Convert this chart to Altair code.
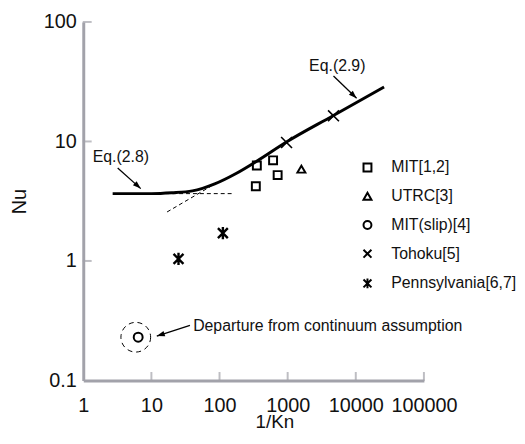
import altair as alt
import pandas as pd

# ---------------- data ----------------
x_ticks = [1, 10, 100, 1000, 10000, 100000]
y_ticks = [0.1, 1, 10, 100]

series_names = ["MIT[1,2]", "UTRC[3]", "MIT(slip)[4]", "Tohoku[5]", "Pennsylvania[6,7]"]
series_shapes = [
    "square",
    "triangle-up",
    "circle",
    "M-1,-1L1,1M1,-1L-1,1",
    "M-1,-1L1,1M1,-1L-1,1M0,-1.25L0,1.25",
]
series_marker_size = [64, 64, 81, 121, 100]
series_marker_stroke = [2, 2, 2, 1.6, 2.4]

mit_x = [353, 611, 713, 341]
mit_y = [6.3, 6.95, 5.23, 4.22]
utrc_x = [1590]
utrc_y = [5.86]
slip_x = [6.4]
slip_y = [0.23]
tohoku_x = [964, 4710]
tohoku_y = [9.8, 16.4]
penn_x = [25, 112]
penn_y = [1.04, 1.71]

# combined correlation curve (solid)
curve_x = [2.7, 10, 20, 40, 85, 175, 360, 960, 4700, 26000]
curve_y = [3.66, 3.66, 3.72, 3.86, 4.42, 5.4, 6.9, 9.9, 16.5, 28.6]
# Eq.(2.8) continuation (dashed horizontal)
eq28_x = [10, 160]
eq28_y = [3.66, 3.66]
# Eq.(2.9) continuation (dashed slope)
eq29_x = [17, 76]
eq29_y = [2.57, 4.24]

# annotations
eq_texts = ["Eq.(2.8)", "Eq.(2.9)"]
eq_x = [3.57, 5350]
eq_y = [7.39, 42.7]
dep_text = ["Departure from continuum assumption"]
dep_x = [41.0]
dep_y = [0.285]

arrow_x1 = [3.2, 4710, 36.8]
arrow_y1 = [6.0, 35.3, 0.289]
arrow_x2 = [6.97, 10280, 12.0]
arrow_y2 = [4.03, 23.0, 0.235]
arrow_angle = [132, 134, 252]

circle_x = [5.9]
circle_y = [0.23]

# ---------------- tables ----------------
rows = []
for name, xs, ys, sz, sw in zip(series_names,
                                [mit_x, utrc_x, slip_x, tohoku_x, penn_x],
                                [mit_y, utrc_y, slip_y, tohoku_y, penn_y],
                                series_marker_size, series_marker_stroke):
    for a, b in zip(xs, ys):
        rows.append({"x": a, "y": b, "series": name, "sz": sz, "sw": sw})
pts = pd.DataFrame(rows)

curve = pd.DataFrame({"x": curve_x, "y": curve_y})
d28 = pd.DataFrame({"x": eq28_x, "y": eq28_y})
d29 = pd.DataFrame({"x": eq29_x, "y": eq29_y})
eqlab = pd.DataFrame({"x": eq_x, "y": eq_y, "t": eq_texts})
deplab = pd.DataFrame({"x": dep_x, "y": dep_y, "t": dep_text})
arrows = pd.DataFrame({"x": arrow_x1, "y": arrow_y1, "x2": arrow_x2, "y2": arrow_y2, "ang": arrow_angle})
circ = pd.DataFrame({"x": circle_x, "y": circle_y})
xt = pd.DataFrame({"x": x_ticks[1:]})
yt = pd.DataFrame({"y": y_ticks[1:]})

FONT = "Liberation Sans"
GRAY = "#a2a2aa"

xscale = alt.Scale(type="log", domain=[1, 100000], nice=False)
yscale = alt.Scale(type="log", domain=[0.1, 100], nice=False)

xaxis = alt.Axis(values=x_ticks, labelExpr="'' + datum.value", title="1/Kn",
                 titleX=193, titleY=48, titleBaseline="alphabetic", titleFontSize=19,
                 titleFontWeight="normal", labelFontSize=20, labelPadding=15,
                 ticks=False, tickSize=0, grid=False, domainColor=GRAY, domainWidth=3,
                 labelColor="#111", titleColor="#111", labelFlush=False)
yaxis = alt.Axis(values=y_ticks, labelExpr="'' + datum.value", title="Nu",
                 titleX=-58, titleY=181, titleAngle=-90, titleAlign="center",
                 titleBaseline="alphabetic", titleFontSize=20, titleFontWeight="normal",
                 labelFontSize=20, labelPadding=7, ticks=False, tickSize=0, grid=False,
                 domainColor=GRAY, domainWidth=3, labelColor="#111", titleColor="#111",
                 labelFlush=False)

X = alt.X("x:Q", scale=xscale, axis=xaxis)
Y = alt.Y("y:Q", scale=yscale, axis=yaxis)

solid = alt.Chart(curve).mark_line(color="black", strokeWidth=3, interpolate="monotone").encode(x=X, y=Y)
dash28 = alt.Chart(d28).mark_line(color="black", strokeWidth=1, strokeDash=[4, 3]).encode(x="x:Q", y="y:Q")
dash29 = alt.Chart(d29).mark_line(color="black", strokeWidth=1, strokeDash=[4, 3]).encode(x="x:Q", y="y:Q")

points = alt.Chart(pts).mark_point(filled=False, color="black", opacity=1).encode(
    x="x:Q", y="y:Q",
    shape=alt.Shape("series:N", scale=alt.Scale(domain=series_names, range=series_shapes),
                    legend=alt.Legend(title=None, orient="none", legendX=279, legendY=139)),
    size=alt.Size("sz:Q", scale=None, legend=None),
    strokeWidth=alt.StrokeWidth("sw:Q", scale=None, legend=None),
)

dcirc = alt.Chart(circ).mark_point(shape="circle", size=900, filled=False, color="black",
                                   strokeWidth=1, strokeDash=[5, 4], opacity=1).encode(x="x:Q", y="y:Q")

rules = alt.Chart(arrows).mark_rule(color="black", strokeWidth=1.3).encode(
    x="x:Q", y="y:Q", x2="x2:Q", y2="y2:Q")
heads = alt.Chart(arrows).mark_point(shape="M0,0L-0.6,1.7L0.6,1.7Z", filled=True, color="black",
                                     size=90, opacity=1).encode(
    x=alt.X("x2:Q"), y=alt.Y("y2:Q"), angle=alt.Angle("ang:Q", scale=None))

eqtexts = alt.Chart(eqlab).mark_text(fontSize=16, font=FONT, color="#111", baseline="middle",
                                     align="center").encode(x="x:Q", y="y:Q", text="t:N")
deptexts = alt.Chart(deplab).mark_text(fontSize=16, font=FONT, color="#111", baseline="middle",
                                       align="left").encode(x="x:Q", y="y:Q", text="t:N")

xticks = alt.Chart(xt).mark_tick(orient="vertical", color=GRAY, thickness=2, size=9, yOffset=-4).encode(
    x="x:Q", y=alt.datum(0.1))
yticks = alt.Chart(yt).mark_tick(orient="horizontal", color=GRAY, thickness=2, size=9, xOffset=4).encode(
    y="y:Q", x=alt.datum(1))

chart = alt.layer(xticks, yticks, dash28, dash29, solid, dcirc, points, rules, heads,
                  eqtexts, deptexts).properties(
    width=344, height=362,
    autosize=alt.AutoSizeParams(type="none"),
    padding={"left": 76, "top": 12, "right": 94, "bottom": 54},
    background="white",
).configure(font=FONT).configure_view(stroke=None).configure_legend(
    labelFontSize=16, labelFont=FONT, labelColor="#111", labelLimit=0,
    symbolSize=64, symbolStrokeWidth=2, symbolStrokeColor="black",
    symbolFillColor="transparent", rowPadding=13, labelOffset=16, padding=0,
)

chart.save("out.html", embed_options={"renderer": "svg", "actions": False})
